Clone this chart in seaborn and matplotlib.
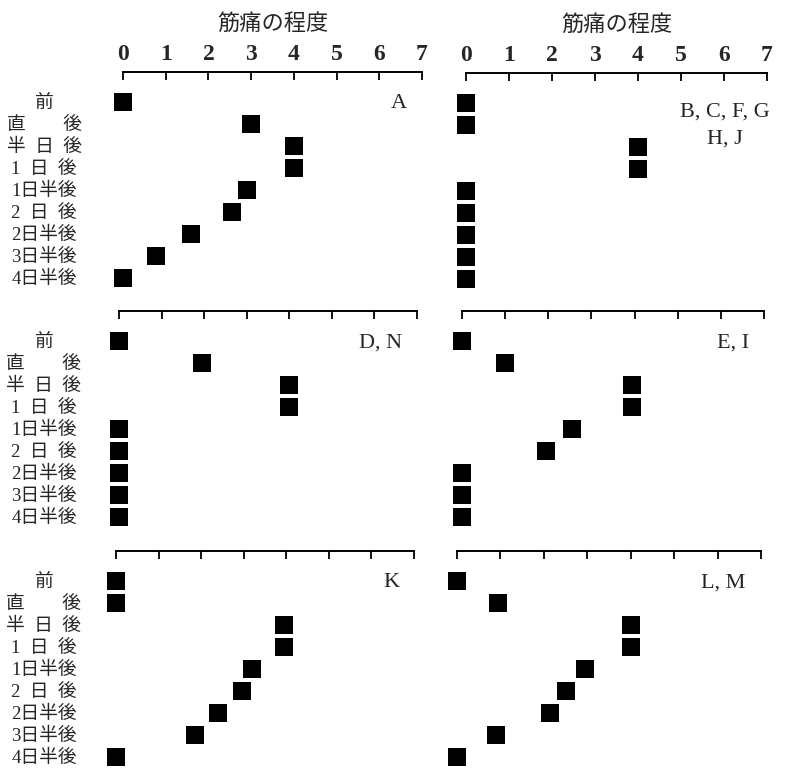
import matplotlib

matplotlib.use("Agg")
import matplotlib.pyplot as plt
import pandas as pd
import seaborn as sns

# time points after exercise (row labels, top to bottom)
periods = [
    "前",
    "直\u3000\u3000後",
    "半\u2002日\u2002後",
    "1\u2002日\u2002後",
    "1日半後",
    "2\u2002日\u2002後",
    "2日半後",
    "3日半後",
    "4日半後",
]
score_ticks = [0, 1, 2, 3, 4, 5, 6, 7]

# muscle soreness score per subject group
score_a = [0, 3, 4, 4, 2.9, 2.55, 1.6, 0.78, 0]
score_bcfghj = [0, 0, 4, 4, 0, 0, 0, 0, 0]
score_dn = [0, 1.95, 4, 4, 0, 0, 0, 0, 0]
score_ei = [0, 1, 3.95, 3.95, 2.55, 1.95, 0, 0, 0]
score_k = [0, 0, 3.95, 3.95, 3.2, 2.95, 2.4, 1.85, 0]
score_lm = [0, 0.95, 4, 4, 2.95, 2.5, 2.15, 0.9, 0]

groups = ["A", "B, C, F, G\nH, J", "D, N", "E, I", "K", "L, M"]
scores = [score_a, score_bcfghj, score_dn, score_ei, score_k, score_lm]

sns.set_style("white")
plt.rcParams["font.family"] = ["Noto Sans CJK JP", "DejaVu Sans"]
serif = ["Liberation Serif", "Noto Sans CJK JP"]

W, H = 785, 770
fig = plt.figure(figsize=(W / 100, H / 100), dpi=100)

# axes boxes in pixels: left, right, top (axis line)
boxes = [(123, 422, 72), (466, 767, 73), (119, 417, 311), (462, 764, 311), (116, 414, 551), (457, 761, 551)]
step = 22
above = 1.35

for i, (group, vals) in enumerate(zip(groups, scores)):
    x0, x1, top = boxes[i]
    h = (8.5 + above) * step
    ax = fig.add_axes([x0 / W, 1 - (top + h) / H, (x1 - x0) / W, h / H])
    df = pd.DataFrame({"period": periods, "score": vals})
    sns.scatterplot(
        data=df, x="score", y="period", ax=ax, marker="s", s=150, color="black",
        linewidth=0, clip_on=False, legend=False, zorder=3,
    )
    ax.set_xlim(0, 7)
    ax.set_ylim(8.5, -above)
    ax.set_facecolor("none")
    for side in ["right", "left", "bottom"]:
        ax.spines[side].set_visible(False)
    ax.spines["top"].set_linewidth(1.4)
    ax.spines["top"].set_color("black")

    ax.xaxis.tick_top()
    ax.set_xticks(score_ticks)
    first_row = i < 2
    ax.tick_params(
        axis="x", direction="in", length=6, width=1.3, color="black", top=True, bottom=False,
        labeltop=first_row, labelbottom=False, pad=5,
    )
    if first_row:
        ax.set_xticklabels([str(t) for t in score_ticks], family=serif, fontsize=17, fontweight="bold")
        ax.xaxis.set_label_position("top")
        ax.set_xlabel("筋痛の程度", fontsize=16, labelpad=10)
    else:
        ax.set_xlabel("")

    ax.set_yticks(range(len(periods)))
    if i % 2 == 0:
        ax.set_yticklabels(periods, family=serif, fontsize=13.5, ha="center")
        ax.tick_params(axis="y", left=False, length=0, pad=(x0 - 44) * 0.72)
    else:
        ax.set_yticklabels([])
        ax.tick_params(axis="y", left=False, length=0)
    ax.set_ylabel("")

    if "\n" in group:
        ax.text(6.03, 1.05, group, family=serif, fontsize=16, ha="center", va="center", linespacing=1.6)
    else:
        ax.text(6.65, 0.1, group, family=serif, fontsize=16, ha="right", va="center")

fig.savefig("out.png", dpi=100, facecolor="white")
